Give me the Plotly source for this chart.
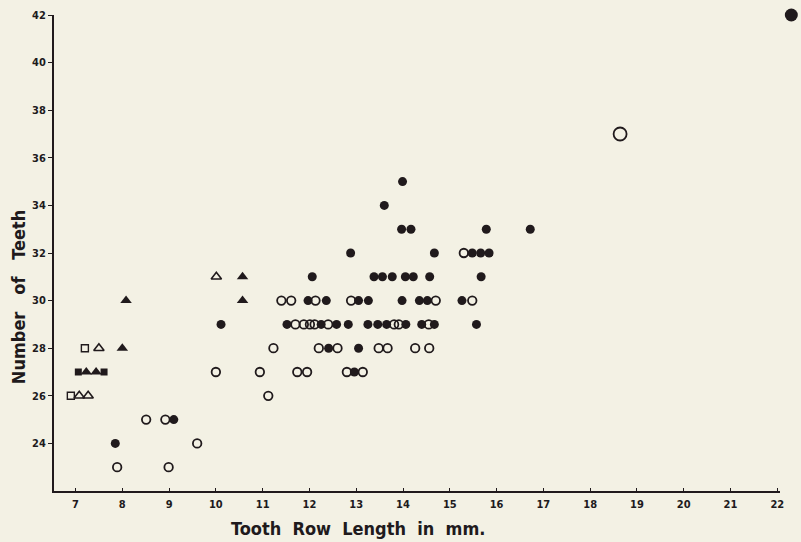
import plotly.graph_objects as go

INK = "#201a1c"
BG = "#f3f1e4"
FONT = "DejaVu Sans Condensed, Roboto, sans-serif"

# Filled circles
filled_circle_x = [13.99, 13.60, 13.97, 14.17, 15.78, 16.72,
                   12.88, 14.67, 15.48, 15.66, 15.84,
                   12.06, 13.38, 13.56, 13.77, 14.05, 14.22, 14.57, 15.67,
                   11.97, 12.36, 13.05, 13.26, 13.98, 14.35, 14.52, 15.26,
                   10.11, 11.52, 12.25, 12.58, 12.83, 13.25, 13.46, 13.65, 14.06, 14.40, 14.67, 15.57,
                   12.41, 13.05, 12.96, 9.10, 7.85]
filled_circle_y = [35, 34, 33, 33, 33, 33,
                   32, 32, 32, 32, 32,
                   31, 31, 31, 31, 31, 31, 31, 31,
                   30, 30, 30, 30, 30, 30, 30, 30,
                   29, 29, 29, 29, 29, 29, 29, 29, 29, 29, 29, 29,
                   28, 28, 27, 25, 24]

# Open circles
open_circle_x = [15.30,
                 11.40, 11.61, 12.13, 12.89, 14.70, 15.48,
                 11.70, 11.88, 12.01, 12.11, 12.40, 13.81, 13.91, 14.55,
                 11.23, 12.20, 12.60, 13.48, 13.67, 14.26, 14.56,
                 10.00, 10.94, 11.74, 11.95, 12.80, 13.14,
                 11.12, 8.51, 8.92, 9.60, 7.89, 8.99]
open_circle_y = [32,
                 30, 30, 30, 30, 30, 30,
                 29, 29, 29, 29, 29, 29, 29, 29,
                 28, 28, 28, 28, 28, 28, 28,
                 27, 27, 27, 27, 27, 27,
                 26, 25, 25, 24, 23, 23]

# Large markers
large_open_x = [18.64]
large_open_y = [37]
large_filled_x = [22.30]
large_filled_y = [42]

# Triangles and squares
open_tri_x = [7.50, 7.08, 7.27, 10.01]
open_tri_y = [28, 26, 26, 31]
filled_tri_x = [8.08, 8.00, 7.23, 7.44, 10.57, 10.57]
filled_tri_y = [30, 28, 27, 27, 31, 30]
open_sq_x = [7.20, 6.90]
open_sq_y = [28, 26]
filled_sq_x = [7.06, 7.61]
filled_sq_y = [27, 27]

x_ticks = list(range(7, 23))
y_ticks = list(range(24, 43, 2))

# Geometry (pixels)
W, H = 801, 542
L, T, B = 54, 15, 51
AXIS_RIGHT = 784
X0, X1 = 6.54, 22.06
px_per_unit = (AXIS_RIGHT - L) / (X1 - X0)
X2_END = X0 + (W - L) / px_per_unit

fig = go.Figure()

def add(x, y, symbol, size, lw=0, xaxis="x"):
    fig.add_trace(go.Scatter(
        x=x, y=y, mode="markers", cliponaxis=False, showlegend=False, xaxis=xaxis,
        marker=dict(symbol=symbol, size=size, color=INK,
                    line=dict(width=lw, color=INK))))

add(filled_circle_x, filled_circle_y, "circle", 9)
add(open_circle_x, open_circle_y, "circle-open", 8.5, 1.8)
add(large_open_x, large_open_y, "circle-open", 13, 1.8)
add(large_filled_x, large_filled_y, "circle", 13, xaxis="x2")
add(open_tri_x, open_tri_y, "triangle-up-open", 9, 1.6)
add(filled_tri_x, filled_tri_y, "triangle-up", 10)
add(open_sq_x, open_sq_y, "square-open", 7, 1.4)
add(filled_sq_x, filled_sq_y, "square", 7)

fig.update_layout(
    width=W, height=H,
    margin=dict(l=L, r=0, t=T, b=B),
    paper_bgcolor=BG, plot_bgcolor="rgba(0,0,0,0)",
    font=dict(family=FONT, color=INK),
    xaxis=dict(range=[X0, X1], domain=[0, (AXIS_RIGHT - L) / (W - L)], anchor="y",
               tickvals=x_ticks, showgrid=False, zeroline=False,
               showline=True, linecolor=INK, linewidth=2, ticks="inside", ticklen=3,
               tickcolor=INK, tickwidth=1.2, ticklabelstandoff=2,
               tickfont=dict(family=FONT, size=11, weight="bold", color=INK)),
    xaxis2=dict(range=[X0, X2_END], domain=[0, 1], anchor="y",
                showgrid=False, zeroline=False, showline=False, showticklabels=False,
                ticks=""),
    yaxis=dict(range=[22, 42], tickvals=y_ticks, showgrid=False, zeroline=False,
               anchor="x", showline=True, linecolor=INK, linewidth=2, ticks="outside", ticklen=4,
               tickcolor=INK, tickwidth=1.2,
               tickfont=dict(family=FONT, size=11, weight="bold", color=INK)),
)

NB = "\u00a0"
fig.add_annotation(text="Tooth" + NB * 2 + "Row" + NB * 2 + "Length" + NB * 2 + "in" + NB * 2 + "mm.",
                   xref="paper", yref="paper", x=(360 - L) / (W - L), y=-0.078,
                   xanchor="center", yanchor="middle", showarrow=False,
                   font=dict(family=FONT, size=18, weight="bold", color=INK))
fig.add_annotation(text="Number" + NB * 3 + "of" + NB * 3 + "Teeth",
                   xref="paper", yref="paper", x=(19 - L) / (W - L), y=0.4076,
                   xanchor="center", yanchor="middle", showarrow=False, textangle=-90,
                   font=dict(family=FONT, size=18, weight="bold", color=INK))

fig.write_html("out.html", config={"displayModeBar": False},
               post_script="document.body.style.margin='0';document.body.style.background='" + BG + "';")
